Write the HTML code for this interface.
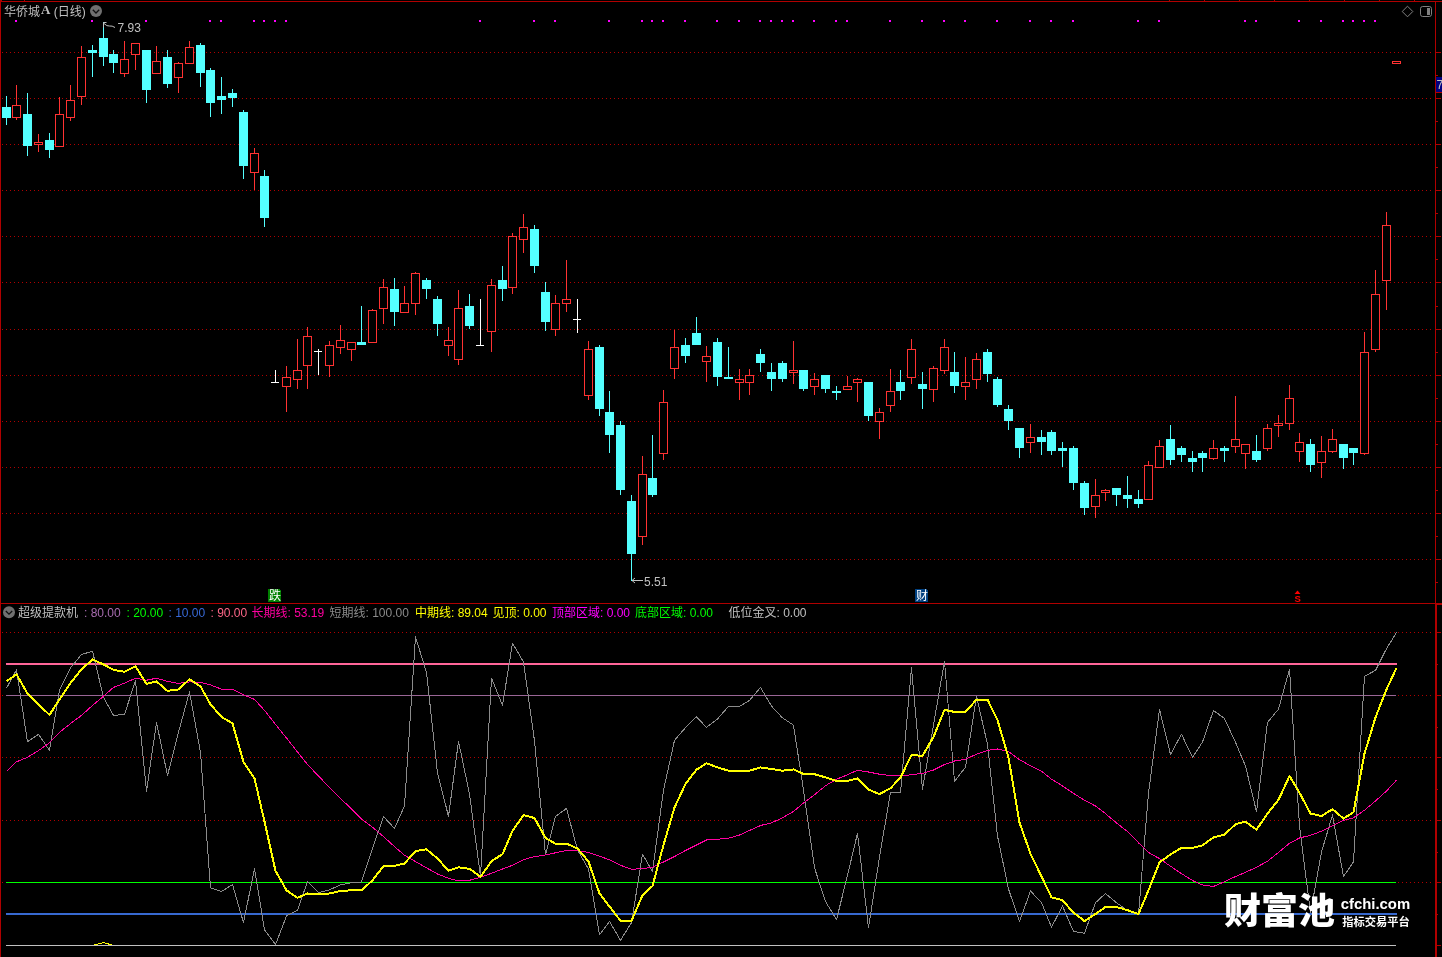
<!DOCTYPE html>
<html lang="zh-CN"><head><meta charset="utf-8"><title>华侨城A (日线)</title>
<style>html,body{margin:0;padding:0;background:#000;overflow:hidden}svg{display:block;will-change:transform}text{font-family:"Liberation Sans","Noto Sans CJK SC",sans-serif;font-size:12px}.s{font-family:"Liberation Serif","Noto Serif CJK SC",serif}</style></head><body>
<svg width="1442" height="957" viewBox="0 0 1442 957" shape-rendering="crispEdges">
<rect x="0" y="0" width="1442" height="957" fill="#000"/>
<rect x="0" y="0" width="1" height="957" fill="#b00000"/>
<rect x="0" y="1" width="1442" height="1" fill="#b00000"/>
<rect x="1" y="0" width="1" height="1" fill="#b00000"/>
<rect x="24" y="0" width="1" height="1" fill="#b00000"/>
<rect x="1169" y="0" width="1" height="1" fill="#b00000"/>
<rect x="1204" y="0" width="1" height="1" fill="#b00000"/>
<rect x="1239" y="0" width="1" height="1" fill="#b00000"/>
<rect x="1274" y="0" width="1" height="1" fill="#b00000"/>
<rect x="1309" y="0" width="1" height="1" fill="#b00000"/>
<rect x="1344" y="0" width="1" height="1" fill="#b00000"/>
<rect x="1379" y="0" width="1" height="1" fill="#b00000"/>
<rect x="1414" y="0" width="1" height="1" fill="#b00000"/>
<rect x="1434.5" y="2" width="1" height="601" fill="#b00000"/>
<rect x="1434.5" y="603" width="2" height="354" fill="#b00000"/>
<rect x="0" y="603" width="1436" height="1" fill="#b00000"/>
<rect x="1435.5" y="603" width="6" height="2" fill="#b00000"/>
<g fill="#b00000">
<path d="M2 52.5H1432" stroke="#b00000" stroke-width="1" stroke-dasharray="1 3" fill="none"/>
<path d="M2 98.5H1432" stroke="#b00000" stroke-width="1" stroke-dasharray="1 3" fill="none"/>
<path d="M2 144.5H1432" stroke="#b00000" stroke-width="1" stroke-dasharray="1 3" fill="none"/>
<path d="M2 190.5H1432" stroke="#b00000" stroke-width="1" stroke-dasharray="1 3" fill="none"/>
<path d="M2 236.5H1432" stroke="#b00000" stroke-width="1" stroke-dasharray="1 3" fill="none"/>
<path d="M2 282.5H1432" stroke="#b00000" stroke-width="1" stroke-dasharray="1 3" fill="none"/>
<path d="M2 329.5H1432" stroke="#b00000" stroke-width="1" stroke-dasharray="1 3" fill="none"/>
<path d="M2 375.5H1432" stroke="#b00000" stroke-width="1" stroke-dasharray="1 3" fill="none"/>
<path d="M2 421.5H1432" stroke="#b00000" stroke-width="1" stroke-dasharray="1 3" fill="none"/>
<path d="M2 467.5H1432" stroke="#b00000" stroke-width="1" stroke-dasharray="1 3" fill="none"/>
<path d="M2 513.5H1432" stroke="#b00000" stroke-width="1" stroke-dasharray="1 3" fill="none"/>
<path d="M2 559.5H1432" stroke="#b00000" stroke-width="1" stroke-dasharray="1 3" fill="none"/>
<path d="M2 632.5H1432" stroke="#b00000" stroke-width="1" stroke-dasharray="1 3" fill="none"/>
<path d="M2 695.5H1432" stroke="#b00000" stroke-width="1" stroke-dasharray="1 3" fill="none"/>
<path d="M2 757.5H1432" stroke="#b00000" stroke-width="1" stroke-dasharray="1 3" fill="none"/>
<path d="M2 820.5H1432" stroke="#b00000" stroke-width="1" stroke-dasharray="1 3" fill="none"/>
<path d="M2 882.5H1432" stroke="#b00000" stroke-width="1" stroke-dasharray="1 3" fill="none"/>
</g>
<rect x="1435.5" y="52" width="5" height="1" fill="#b00000"/>
<rect x="1435.5" y="98" width="5" height="1" fill="#b00000"/>
<rect x="1435.5" y="75" width="2" height="1" fill="#b00000"/>
<rect x="1435.5" y="144" width="5" height="1" fill="#b00000"/>
<rect x="1435.5" y="121" width="2" height="1" fill="#b00000"/>
<rect x="1435.5" y="190" width="5" height="1" fill="#b00000"/>
<rect x="1435.5" y="167" width="2" height="1" fill="#b00000"/>
<rect x="1435.5" y="236" width="5" height="1" fill="#b00000"/>
<rect x="1435.5" y="213" width="2" height="1" fill="#b00000"/>
<rect x="1435.5" y="282" width="5" height="1" fill="#b00000"/>
<rect x="1435.5" y="259" width="2" height="1" fill="#b00000"/>
<rect x="1435.5" y="329" width="5" height="1" fill="#b00000"/>
<rect x="1435.5" y="306" width="2" height="1" fill="#b00000"/>
<rect x="1435.5" y="375" width="5" height="1" fill="#b00000"/>
<rect x="1435.5" y="352" width="2" height="1" fill="#b00000"/>
<rect x="1435.5" y="421" width="5" height="1" fill="#b00000"/>
<rect x="1435.5" y="398" width="2" height="1" fill="#b00000"/>
<rect x="1435.5" y="467" width="5" height="1" fill="#b00000"/>
<rect x="1435.5" y="444" width="2" height="1" fill="#b00000"/>
<rect x="1435.5" y="513" width="5" height="1" fill="#b00000"/>
<rect x="1435.5" y="490" width="2" height="1" fill="#b00000"/>
<rect x="1435.5" y="559" width="5" height="1" fill="#b00000"/>
<rect x="1435.5" y="536" width="2" height="1" fill="#b00000"/>
<rect x="1435.5" y="582" width="2" height="1" fill="#b00000"/>
<rect x="1436.5" y="632" width="4" height="1" fill="#b00000"/>
<rect x="1436.5" y="664" width="1" height="1" fill="#b00000"/>
<rect x="1436.5" y="695" width="4" height="1" fill="#b00000"/>
<rect x="1436.5" y="727" width="1" height="1" fill="#b00000"/>
<rect x="1436.5" y="757" width="4" height="1" fill="#b00000"/>
<rect x="1436.5" y="789" width="1" height="1" fill="#b00000"/>
<rect x="1436.5" y="820" width="4" height="1" fill="#b00000"/>
<rect x="1436.5" y="852" width="1" height="1" fill="#b00000"/>
<rect x="1436.5" y="882" width="4" height="1" fill="#b00000"/>
<rect x="1436.5" y="914" width="1" height="1" fill="#b00000"/>
<rect x="1436.5" y="945" width="4" height="1" fill="#b00000"/>
<rect x="15" y="20" width="2" height="2" fill="#ff00ff"/>
<rect x="91" y="20" width="2" height="2" fill="#ff00ff"/>
<rect x="145" y="20" width="2" height="2" fill="#ff00ff"/>
<rect x="209" y="20" width="2" height="2" fill="#ff00ff"/>
<rect x="220" y="20" width="2" height="2" fill="#ff00ff"/>
<rect x="253" y="20" width="2" height="2" fill="#ff00ff"/>
<rect x="263" y="20" width="2" height="2" fill="#ff00ff"/>
<rect x="274" y="20" width="2" height="2" fill="#ff00ff"/>
<rect x="285" y="20" width="2" height="2" fill="#ff00ff"/>
<rect x="479" y="20" width="2" height="2" fill="#ff00ff"/>
<rect x="533" y="20" width="2" height="2" fill="#ff00ff"/>
<rect x="554" y="20" width="2" height="2" fill="#ff00ff"/>
<rect x="608" y="20" width="2" height="2" fill="#ff00ff"/>
<rect x="641" y="20" width="2" height="2" fill="#ff00ff"/>
<rect x="651" y="20" width="2" height="2" fill="#ff00ff"/>
<rect x="662" y="20" width="2" height="2" fill="#ff00ff"/>
<rect x="684" y="20" width="2" height="2" fill="#ff00ff"/>
<rect x="716" y="20" width="2" height="2" fill="#ff00ff"/>
<rect x="738" y="20" width="2" height="2" fill="#ff00ff"/>
<rect x="759" y="20" width="2" height="2" fill="#ff00ff"/>
<rect x="770" y="20" width="2" height="2" fill="#ff00ff"/>
<rect x="781" y="20" width="2" height="2" fill="#ff00ff"/>
<rect x="792" y="20" width="2" height="2" fill="#ff00ff"/>
<rect x="813" y="20" width="2" height="2" fill="#ff00ff"/>
<rect x="835" y="20" width="2" height="2" fill="#ff00ff"/>
<rect x="846" y="20" width="2" height="2" fill="#ff00ff"/>
<rect x="889" y="20" width="2" height="2" fill="#ff00ff"/>
<rect x="921" y="20" width="2" height="2" fill="#ff00ff"/>
<rect x="943" y="20" width="2" height="2" fill="#ff00ff"/>
<rect x="964" y="20" width="2" height="2" fill="#ff00ff"/>
<rect x="996" y="20" width="2" height="2" fill="#ff00ff"/>
<rect x="1029" y="20" width="2" height="2" fill="#ff00ff"/>
<rect x="1050" y="20" width="2" height="2" fill="#ff00ff"/>
<rect x="1072" y="20" width="2" height="2" fill="#ff00ff"/>
<rect x="1137" y="20" width="2" height="2" fill="#ff00ff"/>
<rect x="1158" y="20" width="2" height="2" fill="#ff00ff"/>
<rect x="1244" y="20" width="2" height="2" fill="#ff00ff"/>
<rect x="1255" y="20" width="2" height="2" fill="#ff00ff"/>
<rect x="1298" y="20" width="2" height="2" fill="#ff00ff"/>
<rect x="1320" y="20" width="2" height="2" fill="#ff00ff"/>
<rect x="1342" y="20" width="2" height="2" fill="#ff00ff"/>
<rect x="1352" y="20" width="2" height="2" fill="#ff00ff"/>
<rect x="1363" y="20" width="2" height="2" fill="#ff00ff"/>
<rect x="1374" y="20" width="2" height="2" fill="#ff00ff"/>
<rect x="6" y="96" width="1" height="29" fill="#54ffff"/>
<rect x="2" y="107" width="9" height="11" fill="#54ffff"/>
<rect x="16" y="85" width="1" height="20" fill="#ff3232"/>
<rect x="16" y="118" width="1" height="2" fill="#ff3232"/>
<rect x="12.5" y="105.5" width="8" height="12" fill="#000" stroke="#ff3232" stroke-width="1"/>
<rect x="27" y="93" width="1" height="63" fill="#54ffff"/>
<rect x="23" y="114" width="9" height="32" fill="#54ffff"/>
<rect x="38" y="134" width="1" height="8" fill="#ff3232"/>
<rect x="38" y="145" width="1" height="7" fill="#ff3232"/>
<rect x="34.5" y="142.5" width="8" height="2" fill="#000" stroke="#ff3232" stroke-width="1"/>
<rect x="49" y="133" width="1" height="25" fill="#54ffff"/>
<rect x="45" y="140" width="9" height="10" fill="#54ffff"/>
<rect x="59" y="97" width="1" height="17" fill="#ff3232"/>
<rect x="55.5" y="114.5" width="8" height="32" fill="#000" stroke="#ff3232" stroke-width="1"/>
<rect x="70" y="85" width="1" height="15" fill="#ff3232"/>
<rect x="70" y="118" width="1" height="3" fill="#ff3232"/>
<rect x="66.5" y="100.5" width="8" height="17" fill="#000" stroke="#ff3232" stroke-width="1"/>
<rect x="81" y="46" width="1" height="11" fill="#ff3232"/>
<rect x="81" y="97" width="1" height="8" fill="#ff3232"/>
<rect x="77.5" y="57.5" width="8" height="39" fill="#000" stroke="#ff3232" stroke-width="1"/>
<rect x="92" y="45" width="1" height="32" fill="#54ffff"/>
<rect x="88" y="50" width="9" height="3" fill="#54ffff"/>
<rect x="103" y="22" width="1" height="44" fill="#54ffff"/>
<rect x="99" y="38" width="9" height="19" fill="#54ffff"/>
<rect x="113" y="50" width="1" height="23" fill="#54ffff"/>
<rect x="109" y="54" width="9" height="9" fill="#54ffff"/>
<rect x="124" y="41" width="1" height="18" fill="#ff3232"/>
<rect x="124" y="74" width="1" height="3" fill="#ff3232"/>
<rect x="120.5" y="59.5" width="8" height="14" fill="#000" stroke="#ff3232" stroke-width="1"/>
<rect x="135" y="55" width="1" height="15" fill="#ff3232"/>
<rect x="131.5" y="43.5" width="8" height="11" fill="#000" stroke="#ff3232" stroke-width="1"/>
<rect x="146" y="50" width="1" height="53" fill="#54ffff"/>
<rect x="142" y="50" width="9" height="40" fill="#54ffff"/>
<rect x="156" y="46" width="1" height="15" fill="#ff3232"/>
<rect x="152.5" y="61.5" width="8" height="12" fill="#000" stroke="#ff3232" stroke-width="1"/>
<rect x="167" y="50" width="1" height="38" fill="#54ffff"/>
<rect x="163" y="57" width="9" height="27" fill="#54ffff"/>
<rect x="178" y="62" width="1" height="1" fill="#ff3232"/>
<rect x="178" y="78" width="1" height="15" fill="#ff3232"/>
<rect x="174.5" y="63.5" width="8" height="14" fill="#000" stroke="#ff3232" stroke-width="1"/>
<rect x="189" y="41" width="1" height="6" fill="#ff3232"/>
<rect x="185.5" y="47.5" width="8" height="16" fill="#000" stroke="#ff3232" stroke-width="1"/>
<rect x="200" y="43" width="1" height="44" fill="#54ffff"/>
<rect x="196" y="45" width="9" height="28" fill="#54ffff"/>
<rect x="210" y="68" width="1" height="49" fill="#54ffff"/>
<rect x="206" y="70" width="9" height="33" fill="#54ffff"/>
<rect x="221" y="77" width="1" height="37" fill="#54ffff"/>
<rect x="217" y="96" width="9" height="4" fill="#54ffff"/>
<rect x="232" y="89" width="1" height="18" fill="#54ffff"/>
<rect x="228" y="93" width="9" height="5" fill="#54ffff"/>
<rect x="243" y="110" width="1" height="69" fill="#54ffff"/>
<rect x="239" y="112" width="9" height="54" fill="#54ffff"/>
<rect x="254" y="148" width="1" height="5" fill="#ff3232"/>
<rect x="254" y="173" width="1" height="17" fill="#ff3232"/>
<rect x="250.5" y="153.5" width="8" height="19" fill="#000" stroke="#ff3232" stroke-width="1"/>
<rect x="264" y="170" width="1" height="57" fill="#54ffff"/>
<rect x="260" y="176" width="9" height="42" fill="#54ffff"/>
<rect x="275" y="370" width="1" height="13" fill="#ffffff"/>
<rect x="271" y="382" width="8" height="1" fill="#ffffff"/>
<rect x="286" y="366" width="1" height="11" fill="#ff3232"/>
<rect x="286" y="387" width="1" height="25" fill="#ff3232"/>
<rect x="282.5" y="377.5" width="8" height="9" fill="#000" stroke="#ff3232" stroke-width="1"/>
<rect x="297" y="339" width="1" height="31" fill="#ff3232"/>
<rect x="297" y="380" width="1" height="9" fill="#ff3232"/>
<rect x="293.5" y="370.5" width="8" height="9" fill="#000" stroke="#ff3232" stroke-width="1"/>
<rect x="307" y="327" width="1" height="9" fill="#ff3232"/>
<rect x="307" y="366" width="1" height="23" fill="#ff3232"/>
<rect x="303.5" y="336.5" width="8" height="29" fill="#000" stroke="#ff3232" stroke-width="1"/>
<rect x="318" y="349" width="1" height="26" fill="#ffffff"/>
<rect x="314" y="351" width="8" height="1" fill="#ffffff"/>
<rect x="329" y="341" width="1" height="4" fill="#ff3232"/>
<rect x="329" y="366" width="1" height="11" fill="#ff3232"/>
<rect x="325.5" y="345.5" width="8" height="20" fill="#000" stroke="#ff3232" stroke-width="1"/>
<rect x="340" y="325" width="1" height="15" fill="#ff3232"/>
<rect x="340" y="348" width="1" height="6" fill="#ff3232"/>
<rect x="336.5" y="340.5" width="8" height="7" fill="#000" stroke="#ff3232" stroke-width="1"/>
<rect x="351" y="350" width="1" height="11" fill="#ff3232"/>
<rect x="347.5" y="342.5" width="8" height="7" fill="#000" stroke="#ff3232" stroke-width="1"/>
<rect x="361" y="306" width="1" height="39" fill="#54ffff"/>
<rect x="357" y="342" width="9" height="3" fill="#54ffff"/>
<rect x="372" y="309" width="1" height="1" fill="#ff3232"/>
<rect x="368.5" y="310.5" width="8" height="32" fill="#000" stroke="#ff3232" stroke-width="1"/>
<rect x="383" y="279" width="1" height="8" fill="#ff3232"/>
<rect x="383" y="309" width="1" height="15" fill="#ff3232"/>
<rect x="379.5" y="287.5" width="8" height="21" fill="#000" stroke="#ff3232" stroke-width="1"/>
<rect x="394" y="278" width="1" height="48" fill="#54ffff"/>
<rect x="390" y="289" width="9" height="23" fill="#54ffff"/>
<rect x="404" y="286" width="1" height="17" fill="#ff3232"/>
<rect x="400.5" y="303.5" width="8" height="9" fill="#000" stroke="#ff3232" stroke-width="1"/>
<rect x="415" y="272" width="1" height="1" fill="#ff3232"/>
<rect x="415" y="304" width="1" height="11" fill="#ff3232"/>
<rect x="411.5" y="273.5" width="8" height="30" fill="#000" stroke="#ff3232" stroke-width="1"/>
<rect x="426" y="278" width="1" height="21" fill="#54ffff"/>
<rect x="422" y="280" width="9" height="9" fill="#54ffff"/>
<rect x="437" y="296" width="1" height="40" fill="#54ffff"/>
<rect x="433" y="299" width="9" height="25" fill="#54ffff"/>
<rect x="448" y="327" width="1" height="13" fill="#ff3232"/>
<rect x="448" y="346" width="1" height="10" fill="#ff3232"/>
<rect x="444.5" y="340.5" width="8" height="5" fill="#000" stroke="#ff3232" stroke-width="1"/>
<rect x="458" y="290" width="1" height="18" fill="#ff3232"/>
<rect x="458" y="360" width="1" height="5" fill="#ff3232"/>
<rect x="454.5" y="308.5" width="8" height="51" fill="#000" stroke="#ff3232" stroke-width="1"/>
<rect x="469" y="294" width="1" height="35" fill="#54ffff"/>
<rect x="465" y="306" width="9" height="20" fill="#54ffff"/>
<rect x="480" y="299" width="1" height="47" fill="#ffffff"/>
<rect x="476" y="345" width="8" height="1" fill="#ffffff"/>
<rect x="491" y="279" width="1" height="6" fill="#ff3232"/>
<rect x="491" y="332" width="1" height="20" fill="#ff3232"/>
<rect x="487.5" y="285.5" width="8" height="46" fill="#000" stroke="#ff3232" stroke-width="1"/>
<rect x="502" y="266" width="1" height="35" fill="#54ffff"/>
<rect x="498" y="280" width="9" height="9" fill="#54ffff"/>
<rect x="512" y="233" width="1" height="3" fill="#ff3232"/>
<rect x="512" y="288" width="1" height="6" fill="#ff3232"/>
<rect x="508.5" y="236.5" width="8" height="51" fill="#000" stroke="#ff3232" stroke-width="1"/>
<rect x="523" y="214" width="1" height="13" fill="#ff3232"/>
<rect x="523" y="240" width="1" height="13" fill="#ff3232"/>
<rect x="519.5" y="227.5" width="8" height="12" fill="#000" stroke="#ff3232" stroke-width="1"/>
<rect x="534" y="225" width="1" height="48" fill="#54ffff"/>
<rect x="530" y="229" width="9" height="37" fill="#54ffff"/>
<rect x="545" y="282" width="1" height="49" fill="#54ffff"/>
<rect x="541" y="292" width="9" height="30" fill="#54ffff"/>
<rect x="555" y="295" width="1" height="8" fill="#ff3232"/>
<rect x="555" y="330" width="1" height="6" fill="#ff3232"/>
<rect x="551.5" y="303.5" width="8" height="26" fill="#000" stroke="#ff3232" stroke-width="1"/>
<rect x="566" y="260" width="1" height="39" fill="#ff3232"/>
<rect x="566" y="304" width="1" height="8" fill="#ff3232"/>
<rect x="562.5" y="299.5" width="8" height="4" fill="#000" stroke="#ff3232" stroke-width="1"/>
<rect x="577" y="299" width="1" height="34" fill="#ffffff"/>
<rect x="573" y="319" width="8" height="1" fill="#ffffff"/>
<rect x="588" y="341" width="1" height="8" fill="#ff3232"/>
<rect x="588" y="396" width="1" height="4" fill="#ff3232"/>
<rect x="584.5" y="349.5" width="8" height="46" fill="#000" stroke="#ff3232" stroke-width="1"/>
<rect x="599" y="345" width="1" height="71" fill="#54ffff"/>
<rect x="595" y="347" width="9" height="62" fill="#54ffff"/>
<rect x="609" y="391" width="1" height="62" fill="#54ffff"/>
<rect x="605" y="412" width="9" height="23" fill="#54ffff"/>
<rect x="620" y="421" width="1" height="74" fill="#54ffff"/>
<rect x="616" y="425" width="9" height="65" fill="#54ffff"/>
<rect x="631" y="495" width="1" height="86" fill="#54ffff"/>
<rect x="627" y="501" width="9" height="53" fill="#54ffff"/>
<rect x="642" y="456" width="1" height="18" fill="#ff3232"/>
<rect x="642" y="537" width="1" height="8" fill="#ff3232"/>
<rect x="638.5" y="474.5" width="8" height="62" fill="#000" stroke="#ff3232" stroke-width="1"/>
<rect x="652" y="435" width="1" height="62" fill="#54ffff"/>
<rect x="648" y="478" width="9" height="17" fill="#54ffff"/>
<rect x="663" y="390" width="1" height="12" fill="#ff3232"/>
<rect x="663" y="454" width="1" height="6" fill="#ff3232"/>
<rect x="659.5" y="402.5" width="8" height="51" fill="#000" stroke="#ff3232" stroke-width="1"/>
<rect x="674" y="330" width="1" height="17" fill="#ff3232"/>
<rect x="674" y="369" width="1" height="10" fill="#ff3232"/>
<rect x="670.5" y="347.5" width="8" height="21" fill="#000" stroke="#ff3232" stroke-width="1"/>
<rect x="685" y="338" width="1" height="25" fill="#54ffff"/>
<rect x="681" y="345" width="9" height="11" fill="#54ffff"/>
<rect x="696" y="317" width="1" height="28" fill="#54ffff"/>
<rect x="692" y="333" width="9" height="12" fill="#54ffff"/>
<rect x="706" y="346" width="1" height="10" fill="#ff3232"/>
<rect x="706" y="362" width="1" height="20" fill="#ff3232"/>
<rect x="702.5" y="356.5" width="8" height="5" fill="#000" stroke="#ff3232" stroke-width="1"/>
<rect x="717" y="338" width="1" height="48" fill="#54ffff"/>
<rect x="713" y="342" width="9" height="35" fill="#54ffff"/>
<rect x="728" y="347" width="1" height="32" fill="#54ffff"/>
<rect x="724" y="377" width="9" height="2" fill="#54ffff"/>
<rect x="739" y="369" width="1" height="10" fill="#ff3232"/>
<rect x="739" y="383" width="1" height="17" fill="#ff3232"/>
<rect x="735.5" y="379.5" width="8" height="3" fill="#000" stroke="#ff3232" stroke-width="1"/>
<rect x="749" y="369" width="1" height="6" fill="#ff3232"/>
<rect x="749" y="383" width="1" height="12" fill="#ff3232"/>
<rect x="745.5" y="375.5" width="8" height="7" fill="#000" stroke="#ff3232" stroke-width="1"/>
<rect x="760" y="349" width="1" height="23" fill="#54ffff"/>
<rect x="756" y="354" width="9" height="9" fill="#54ffff"/>
<rect x="771" y="363" width="1" height="28" fill="#54ffff"/>
<rect x="767" y="372" width="9" height="7" fill="#54ffff"/>
<rect x="782" y="361" width="1" height="21" fill="#54ffff"/>
<rect x="778" y="363" width="9" height="16" fill="#54ffff"/>
<rect x="793" y="341" width="1" height="29" fill="#ff3232"/>
<rect x="793" y="373" width="1" height="11" fill="#ff3232"/>
<rect x="789.5" y="370.5" width="8" height="2" fill="#000" stroke="#ff3232" stroke-width="1"/>
<rect x="803" y="370" width="1" height="21" fill="#54ffff"/>
<rect x="799" y="370" width="9" height="19" fill="#54ffff"/>
<rect x="814" y="373" width="1" height="6" fill="#ff3232"/>
<rect x="814" y="387" width="1" height="8" fill="#ff3232"/>
<rect x="810.5" y="379.5" width="8" height="7" fill="#000" stroke="#ff3232" stroke-width="1"/>
<rect x="825" y="375" width="1" height="18" fill="#54ffff"/>
<rect x="821" y="375" width="9" height="14" fill="#54ffff"/>
<rect x="836" y="386" width="1" height="14" fill="#54ffff"/>
<rect x="832" y="391" width="9" height="2" fill="#54ffff"/>
<rect x="847" y="376" width="1" height="10" fill="#ff3232"/>
<rect x="843.5" y="386.5" width="8" height="3" fill="#000" stroke="#ff3232" stroke-width="1"/>
<rect x="857" y="378" width="1" height="1" fill="#ff3232"/>
<rect x="857" y="383" width="1" height="19" fill="#ff3232"/>
<rect x="853.5" y="379.5" width="8" height="3" fill="#000" stroke="#ff3232" stroke-width="1"/>
<rect x="868" y="382" width="1" height="39" fill="#54ffff"/>
<rect x="864" y="382" width="9" height="34" fill="#54ffff"/>
<rect x="879" y="408" width="1" height="4" fill="#ff3232"/>
<rect x="879" y="422" width="1" height="17" fill="#ff3232"/>
<rect x="875.5" y="412.5" width="8" height="9" fill="#000" stroke="#ff3232" stroke-width="1"/>
<rect x="890" y="369" width="1" height="22" fill="#ff3232"/>
<rect x="890" y="406" width="1" height="6" fill="#ff3232"/>
<rect x="886.5" y="391.5" width="8" height="14" fill="#000" stroke="#ff3232" stroke-width="1"/>
<rect x="900" y="370" width="1" height="30" fill="#54ffff"/>
<rect x="896" y="382" width="9" height="9" fill="#54ffff"/>
<rect x="911" y="339" width="1" height="10" fill="#ff3232"/>
<rect x="911" y="378" width="1" height="6" fill="#ff3232"/>
<rect x="907.5" y="349.5" width="8" height="28" fill="#000" stroke="#ff3232" stroke-width="1"/>
<rect x="922" y="372" width="1" height="37" fill="#54ffff"/>
<rect x="918" y="384" width="9" height="5" fill="#54ffff"/>
<rect x="933" y="366" width="1" height="2" fill="#ff3232"/>
<rect x="933" y="390" width="1" height="12" fill="#ff3232"/>
<rect x="929.5" y="368.5" width="8" height="21" fill="#000" stroke="#ff3232" stroke-width="1"/>
<rect x="944" y="339" width="1" height="8" fill="#ff3232"/>
<rect x="944" y="371" width="1" height="3" fill="#ff3232"/>
<rect x="940.5" y="347.5" width="8" height="23" fill="#000" stroke="#ff3232" stroke-width="1"/>
<rect x="954" y="352" width="1" height="41" fill="#54ffff"/>
<rect x="950" y="372" width="9" height="14" fill="#54ffff"/>
<rect x="965" y="357" width="1" height="25" fill="#ff3232"/>
<rect x="965" y="387" width="1" height="13" fill="#ff3232"/>
<rect x="961.5" y="382.5" width="8" height="4" fill="#000" stroke="#ff3232" stroke-width="1"/>
<rect x="976" y="353" width="1" height="6" fill="#ff3232"/>
<rect x="976" y="380" width="1" height="9" fill="#ff3232"/>
<rect x="972.5" y="359.5" width="8" height="20" fill="#000" stroke="#ff3232" stroke-width="1"/>
<rect x="987" y="349" width="1" height="33" fill="#54ffff"/>
<rect x="983" y="352" width="9" height="22" fill="#54ffff"/>
<rect x="997" y="377" width="1" height="30" fill="#54ffff"/>
<rect x="993" y="379" width="9" height="26" fill="#54ffff"/>
<rect x="1008" y="405" width="1" height="25" fill="#54ffff"/>
<rect x="1004" y="409" width="9" height="12" fill="#54ffff"/>
<rect x="1019" y="428" width="1" height="30" fill="#54ffff"/>
<rect x="1015" y="428" width="9" height="20" fill="#54ffff"/>
<rect x="1030" y="424" width="1" height="13" fill="#ff3232"/>
<rect x="1030" y="443" width="1" height="10" fill="#ff3232"/>
<rect x="1026.5" y="437.5" width="8" height="5" fill="#000" stroke="#ff3232" stroke-width="1"/>
<rect x="1041" y="430" width="1" height="25" fill="#54ffff"/>
<rect x="1037" y="437" width="9" height="5" fill="#54ffff"/>
<rect x="1051" y="430" width="1" height="25" fill="#54ffff"/>
<rect x="1047" y="432" width="9" height="19" fill="#54ffff"/>
<rect x="1062" y="442" width="1" height="25" fill="#54ffff"/>
<rect x="1058" y="448" width="9" height="3" fill="#54ffff"/>
<rect x="1073" y="446" width="1" height="44" fill="#54ffff"/>
<rect x="1069" y="448" width="9" height="35" fill="#54ffff"/>
<rect x="1084" y="481" width="1" height="34" fill="#54ffff"/>
<rect x="1080" y="483" width="9" height="25" fill="#54ffff"/>
<rect x="1095" y="479" width="1" height="16" fill="#ff3232"/>
<rect x="1095" y="507" width="1" height="11" fill="#ff3232"/>
<rect x="1091.5" y="495.5" width="8" height="11" fill="#000" stroke="#ff3232" stroke-width="1"/>
<rect x="1105" y="489" width="1" height="1" fill="#ff3232"/>
<rect x="1105" y="493" width="1" height="8" fill="#ff3232"/>
<rect x="1101.5" y="490.5" width="8" height="2" fill="#000" stroke="#ff3232" stroke-width="1"/>
<rect x="1116" y="488" width="1" height="18" fill="#54ffff"/>
<rect x="1112" y="488" width="9" height="7" fill="#54ffff"/>
<rect x="1127" y="476" width="1" height="32" fill="#54ffff"/>
<rect x="1123" y="495" width="9" height="4" fill="#54ffff"/>
<rect x="1138" y="490" width="1" height="18" fill="#54ffff"/>
<rect x="1134" y="499" width="9" height="5" fill="#54ffff"/>
<rect x="1148" y="461" width="1" height="4" fill="#ff3232"/>
<rect x="1144.5" y="465.5" width="8" height="34" fill="#000" stroke="#ff3232" stroke-width="1"/>
<rect x="1159" y="440" width="1" height="6" fill="#ff3232"/>
<rect x="1155.5" y="446.5" width="8" height="21" fill="#000" stroke="#ff3232" stroke-width="1"/>
<rect x="1170" y="425" width="1" height="40" fill="#54ffff"/>
<rect x="1166" y="439" width="9" height="21" fill="#54ffff"/>
<rect x="1181" y="446" width="1" height="16" fill="#54ffff"/>
<rect x="1177" y="448" width="9" height="7" fill="#54ffff"/>
<rect x="1192" y="451" width="1" height="21" fill="#54ffff"/>
<rect x="1188" y="458" width="9" height="4" fill="#54ffff"/>
<rect x="1202" y="451" width="1" height="21" fill="#54ffff"/>
<rect x="1198" y="453" width="9" height="5" fill="#54ffff"/>
<rect x="1213" y="440" width="1" height="8" fill="#ff3232"/>
<rect x="1213" y="459" width="1" height="1" fill="#ff3232"/>
<rect x="1209.5" y="448.5" width="8" height="10" fill="#000" stroke="#ff3232" stroke-width="1"/>
<rect x="1224" y="446" width="1" height="16" fill="#54ffff"/>
<rect x="1220" y="448" width="9" height="3" fill="#54ffff"/>
<rect x="1235" y="396" width="1" height="43" fill="#ff3232"/>
<rect x="1235" y="447" width="1" height="6" fill="#ff3232"/>
<rect x="1231.5" y="439.5" width="8" height="7" fill="#000" stroke="#ff3232" stroke-width="1"/>
<rect x="1245" y="454" width="1" height="15" fill="#ff3232"/>
<rect x="1241.5" y="444.5" width="8" height="9" fill="#000" stroke="#ff3232" stroke-width="1"/>
<rect x="1256" y="435" width="1" height="27" fill="#54ffff"/>
<rect x="1252" y="451" width="9" height="9" fill="#54ffff"/>
<rect x="1267" y="424" width="1" height="4" fill="#ff3232"/>
<rect x="1267" y="449" width="1" height="2" fill="#ff3232"/>
<rect x="1263.5" y="428.5" width="8" height="20" fill="#000" stroke="#ff3232" stroke-width="1"/>
<rect x="1278" y="415" width="1" height="8" fill="#ff3232"/>
<rect x="1278" y="426" width="1" height="11" fill="#ff3232"/>
<rect x="1274.5" y="423.5" width="8" height="2" fill="#000" stroke="#ff3232" stroke-width="1"/>
<rect x="1289" y="385" width="1" height="13" fill="#ff3232"/>
<rect x="1289" y="424" width="1" height="6" fill="#ff3232"/>
<rect x="1285.5" y="398.5" width="8" height="25" fill="#000" stroke="#ff3232" stroke-width="1"/>
<rect x="1299" y="433" width="1" height="9" fill="#ff3232"/>
<rect x="1299" y="452" width="1" height="10" fill="#ff3232"/>
<rect x="1295.5" y="442.5" width="8" height="9" fill="#000" stroke="#ff3232" stroke-width="1"/>
<rect x="1310" y="439" width="1" height="33" fill="#54ffff"/>
<rect x="1306" y="444" width="9" height="21" fill="#54ffff"/>
<rect x="1321" y="436" width="1" height="15" fill="#ff3232"/>
<rect x="1321" y="463" width="1" height="15" fill="#ff3232"/>
<rect x="1317.5" y="451.5" width="8" height="11" fill="#000" stroke="#ff3232" stroke-width="1"/>
<rect x="1332" y="429" width="1" height="10" fill="#ff3232"/>
<rect x="1332" y="452" width="1" height="1" fill="#ff3232"/>
<rect x="1328.5" y="439.5" width="8" height="12" fill="#000" stroke="#ff3232" stroke-width="1"/>
<rect x="1343" y="444" width="1" height="25" fill="#54ffff"/>
<rect x="1339" y="444" width="9" height="14" fill="#54ffff"/>
<rect x="1353" y="448" width="1" height="17" fill="#54ffff"/>
<rect x="1349" y="448" width="9" height="5" fill="#54ffff"/>
<rect x="1364" y="332" width="1" height="20" fill="#ff3232"/>
<rect x="1364" y="454" width="1" height="1" fill="#ff3232"/>
<rect x="1360.5" y="352.5" width="8" height="101" fill="#000" stroke="#ff3232" stroke-width="1"/>
<rect x="1375" y="270" width="1" height="24" fill="#ff3232"/>
<rect x="1375" y="350" width="1" height="2" fill="#ff3232"/>
<rect x="1371.5" y="294.5" width="8" height="55" fill="#000" stroke="#ff3232" stroke-width="1"/>
<rect x="1386" y="212" width="1" height="13" fill="#ff3232"/>
<rect x="1386" y="281" width="1" height="29" fill="#ff3232"/>
<rect x="1382.5" y="225.5" width="8" height="55" fill="#000" stroke="#ff3232" stroke-width="1"/>
<rect x="1392.5" y="61.5" width="8" height="2" fill="#000" stroke="#ff3232" stroke-width="1"/>
<polyline fill="none" stroke="#ffff00" stroke-width="1" points="92.5,945.5 103.5,942.5 113.5,945.5"/>
<rect x="6" y="945" width="1390" height="1" fill="#c0c0c0"/>
<rect x="6" y="695" width="1390" height="1" fill="#9a6696"/>
<rect x="6" y="882" width="1390" height="1" fill="#00ff00"/>
<rect x="6" y="913" width="1391" height="2" fill="#3769d0"/>
<rect x="6" y="663" width="1391" height="2" fill="#ff6699"/>
<polyline fill="none" stroke="#8b8b8b" stroke-width="1" stroke-linejoin="round" points="6.5,688.2 16.5,669.9 27.5,741.8 38.5,734.3 49.5,750.3 59.5,690.4 70.5,667.9 81.5,654.5 92.5,651.2 103.5,697.4 113.5,715.4 124.5,714.4 135.5,680.4 146.5,791.3 156.5,722.4 167.5,775.5 178.5,732.3 189.5,691.9 200.5,752.3 210.5,887.8 221.5,891.5 232.5,884.5 243.5,922.7 254.5,868.5 264.5,929.7 275.5,944.7 286.5,916.0 297.5,910.2 307.5,881.5 318.5,892.8 329.5,889.8 340.5,884.8 351.5,882.8 361.5,882.0 372.5,848.5 383.5,816.6 394.5,828.4 404.5,806.0 415.5,637.0 426.5,672.4 437.5,773.0 448.5,816.4 458.5,741.4 469.5,794.0 480.5,876.5 491.5,678.2 502.5,705.4 512.5,643.2 523.5,662.0 534.5,741.0 545.5,854.8 555.5,816.6 566.5,808.4 577.5,850.0 588.5,869.0 599.5,934.7 609.5,921.5 620.5,940.2 631.5,922.7 642.5,854.2 652.5,871.5 663.5,790.0 674.5,740.4 685.5,727.6 696.5,716.8 706.5,727.4 717.5,719.0 728.5,706.4 739.5,706.4 749.5,700.4 760.5,687.4 771.5,706.1 782.5,717.9 793.5,725.2 803.5,790.0 814.5,867.8 825.5,901.5 836.5,919.7 847.5,875.3 857.5,833.2 868.5,927.7 879.5,857.0 890.5,792.4 900.5,792.4 911.5,667.9 922.5,789.2 933.5,725.0 944.5,661.2 954.5,781.3 965.5,767.2 976.5,696.2 987.5,744.5 997.5,836.0 1008.5,889.0 1019.5,921.5 1030.5,891.0 1041.5,902.7 1051.5,927.2 1062.5,906.0 1073.5,931.5 1084.5,933.2 1095.5,902.7 1105.5,893.5 1116.5,902.7 1127.5,910.7 1138.5,914.0 1148.5,793.2 1159.5,709.4 1170.5,754.5 1181.5,734.2 1192.5,757.4 1202.5,742.0 1213.5,710.4 1224.5,718.6 1235.5,742.3 1245.5,766.1 1256.5,811.7 1267.5,722.4 1278.5,709.1 1289.5,669.2 1299.5,826.0 1310.5,913.0 1321.5,852.0 1332.5,815.0 1343.5,876.6 1353.5,861.7 1364.5,676.2 1375.5,670.4 1386.5,648.7 1396.5,632.5"/>
<polyline fill="none" stroke="#ff00a0" stroke-width="1" stroke-linejoin="round" points="6.5,771.5 16.5,761.8 27.5,757.3 38.5,750.6 49.5,742.8 59.5,732.3 70.5,723.6 81.5,715.4 92.5,705.4 103.5,696.2 113.5,687.4 124.5,683.2 135.5,678.2 146.5,680.2 156.5,678.2 167.5,681.4 178.5,683.4 189.5,681.9 200.5,682.4 210.5,684.9 221.5,689.2 232.5,689.4 243.5,694.9 254.5,699.4 264.5,710.4 275.5,724.4 286.5,738.0 297.5,752.0 307.5,764.5 318.5,776.0 329.5,787.5 340.5,798.5 351.5,808.8 361.5,819.1 372.5,827.3 383.5,836.6 394.5,846.6 404.5,855.3 415.5,861.6 426.5,867.8 437.5,874.0 448.5,878.3 458.5,880.8 469.5,880.3 480.5,877.3 491.5,873.3 502.5,869.0 512.5,865.3 523.5,859.6 534.5,856.6 545.5,855.0 555.5,852.8 566.5,850.4 577.5,850.6 588.5,852.5 599.5,856.2 609.5,859.8 620.5,865.3 631.5,869.3 642.5,868.5 652.5,867.3 663.5,862.0 674.5,856.5 685.5,850.5 696.5,845.0 706.5,840.0 717.5,839.2 728.5,838.2 739.5,835.0 749.5,830.5 760.5,825.5 771.5,822.8 782.5,817.8 793.5,811.5 803.5,803.0 814.5,794.8 825.5,785.7 836.5,779.2 847.5,774.8 857.5,770.2 868.5,772.0 879.5,774.2 890.5,775.5 900.5,776.0 911.5,774.7 922.5,773.4 933.5,770.0 944.5,764.5 954.5,761.0 965.5,759.2 976.5,754.2 987.5,750.4 997.5,749.0 1008.5,751.4 1019.5,759.7 1030.5,765.8 1041.5,771.2 1051.5,779.2 1062.5,785.9 1073.5,793.4 1084.5,800.2 1095.5,806.0 1105.5,813.6 1116.5,823.0 1127.5,831.6 1138.5,842.8 1148.5,852.5 1159.5,858.6 1170.5,866.2 1181.5,873.6 1192.5,880.5 1202.5,885.0 1213.5,886.4 1224.5,881.8 1235.5,876.5 1245.5,872.3 1256.5,867.3 1267.5,861.2 1278.5,852.5 1289.5,843.3 1299.5,838.0 1310.5,835.3 1321.5,831.2 1332.5,825.7 1343.5,820.3 1353.5,817.8 1364.5,810.2 1375.5,801.0 1386.5,791.0 1396.5,780.1"/>
<polyline fill="none" stroke="#ffff00" stroke-width="2" stroke-linejoin="round" points="6.5,681.4 16.5,674.2 27.5,693.7 38.5,704.4 49.5,714.9 59.5,699.4 70.5,682.9 81.5,669.4 92.5,659.5 103.5,664.4 113.5,669.9 124.5,671.7 135.5,666.2 146.5,683.9 156.5,681.4 167.5,690.9 178.5,689.4 189.5,679.2 200.5,686.4 210.5,704.4 221.5,716.9 232.5,723.4 243.5,762.0 254.5,778.3 264.5,821.6 275.5,870.8 286.5,890.3 297.5,897.8 307.5,893.5 318.5,894.0 329.5,893.5 340.5,891.0 351.5,890.3 361.5,890.5 372.5,880.3 383.5,866.0 394.5,865.8 404.5,863.5 415.5,851.0 426.5,849.3 437.5,858.5 448.5,870.8 458.5,867.3 469.5,868.8 480.5,876.8 491.5,861.2 502.5,854.1 512.5,830.9 523.5,815.2 534.5,818.0 545.5,837.9 555.5,843.8 566.5,843.6 577.5,848.5 588.5,861.6 599.5,893.5 609.5,906.5 620.5,920.7 631.5,920.7 642.5,895.3 652.5,886.0 663.5,845.0 674.5,807.5 685.5,784.0 696.5,769.6 706.5,763.3 717.5,767.4 728.5,770.7 739.5,770.7 749.5,770.7 760.5,767.4 771.5,769.0 782.5,770.7 793.5,769.4 803.5,773.9 814.5,774.2 825.5,777.4 836.5,780.9 847.5,780.9 857.5,778.4 868.5,789.6 879.5,794.1 890.5,788.2 900.5,777.6 911.5,754.9 922.5,756.0 933.5,736.8 944.5,709.9 954.5,711.9 965.5,711.9 976.5,699.6 987.5,699.6 997.5,720.2 1008.5,757.6 1019.5,822.5 1030.5,853.8 1041.5,876.5 1051.5,897.3 1062.5,900.2 1073.5,912.7 1084.5,921.0 1095.5,914.0 1105.5,907.0 1116.5,907.0 1127.5,910.2 1138.5,914.0 1148.5,890.3 1159.5,862.3 1170.5,854.5 1181.5,847.8 1192.5,847.8 1202.5,845.3 1213.5,837.3 1224.5,834.7 1235.5,824.2 1245.5,821.7 1256.5,829.7 1267.5,813.5 1278.5,799.8 1289.5,776.0 1299.5,792.8 1310.5,813.5 1321.5,816.0 1332.5,809.2 1343.5,818.5 1353.5,812.2 1364.5,753.6 1375.5,717.4 1386.5,689.4 1396.5,667.9"/>
<text x="4" y="15.5" fill="#c0c0c0">华侨城<tspan class="s" dx="1" dy="-1.8" style="font-weight:bold;font-size:13px">A</tspan><tspan dy="1.8"> (日线)</tspan></text>
<g shape-rendering="geometricPrecision"><circle cx="96" cy="11" r="6" fill="#707070"/><path d="M92.8 9.8L96 13L99.2 9.8" fill="none" stroke="#101010" stroke-width="1.3"/></g>
<g shape-rendering="geometricPrecision"><circle cx="9" cy="612.2" r="6" fill="#707070"/><path d="M5.8 611.0L9 614.2L12.2 611.0" fill="none" stroke="#101010" stroke-width="1.3"/></g>
<g shape-rendering="geometricPrecision"><path d="M103.5 22.5v5M103.5 22.5h3M104 23.5q3 3 5.5 2.5t5.5 1.5" fill="none" stroke="#c0c0c0" stroke-width="1"/></g>
<text x="117.5" y="32" fill="#c0c0c0">7.93</text>
<g shape-rendering="geometricPrecision"><path d="M632 580.5h11M632 580.5l3-2.5M632 580.5l3 2.5" fill="none" stroke="#c0c0c0" stroke-width="1"/></g>
<text x="644" y="586" fill="#c0c0c0">5.51</text>
<g shape-rendering="geometricPrecision" fill="none" stroke="#808080" stroke-width="1"><path d="M1407.5 6.2l5.3 5.3l-5.3 5.3l-5.3-5.3z"/><rect x="1420.5" y="6.5" width="11" height="10" rx="2.2"/><rect x="1427.5" y="8.5" width="2" height="6" fill="#808080"/></g>
<rect x="1435.5" y="77" width="6" height="15" fill="#000080"/>
<rect x="1435.5" y="92" width="6" height="1" fill="#b00000"/>
<rect x="1435.5" y="75" width="2" height="1" fill="#b00000"/>
<text x="1436.5" y="89" fill="#c0c0c0">7</text>
<path d="M268 589h11l2 2v11h-13z" fill="#008000"/>
<text x="269" y="600" fill="#ffffff">跌</text>
<path d="M915 589h11l2 2v11h-13z" fill="#004080"/>
<text x="916" y="600" fill="#ffffff">财</text>
<path d="M1297.5 590.5l3 3.5h-6z" fill="#ff0000" shape-rendering="geometricPrecision"/>
<text x="1294.6" y="601.8" fill="#ff0000" style="font-weight:bold;font-size:9.5px">S</text>
<text x="18" y="617" fill="#c0c0c0">超级提款机</text>
<text x="84" y="617" fill="#a86cb0">: 80.00</text>
<text x="126.5" y="617" fill="#00ff00">: 20.00</text>
<text x="168.5" y="617" fill="#3769d8">: 10.00</text>
<text x="210.5" y="617" fill="#ff6688">: 90.00</text>
<text x="251.5" y="617" fill="#ff00a0">长期线: 53.19</text>
<text x="329.5" y="617" fill="#8b8b8b">短期线: 100.00</text>
<text x="415" y="617" fill="#ffff00">中期线: 89.04</text>
<text x="492.5" y="617" fill="#ffff00">见顶: 0.00</text>
<text x="552" y="617" fill="#ff00ff">顶部区域: 0.00</text>
<text x="635" y="617" fill="#00ff00">底部区域: 0.00</text>
<text x="728.5" y="617" fill="#c0c0c0">低位金叉: 0.00</text>
<g shape-rendering="geometricPrecision" fill="#ffffff">
<text x="1224" y="924" textLength="111" lengthAdjust="spacingAndGlyphs" style="font-family:'Noto Sans CJK SC',sans-serif;font-size:36px;font-weight:900">财富池</text>
<text x="1340.7" y="908.5" textLength="69.5" lengthAdjust="spacingAndGlyphs" style="font-size:14.5px;font-weight:bold">cfchi.com</text>
<text x="1342.2" y="925.9" textLength="67.6" lengthAdjust="spacingAndGlyphs" style="font-size:11px;font-weight:bold">指标交易平台</text>
</g>
</svg></body></html>
